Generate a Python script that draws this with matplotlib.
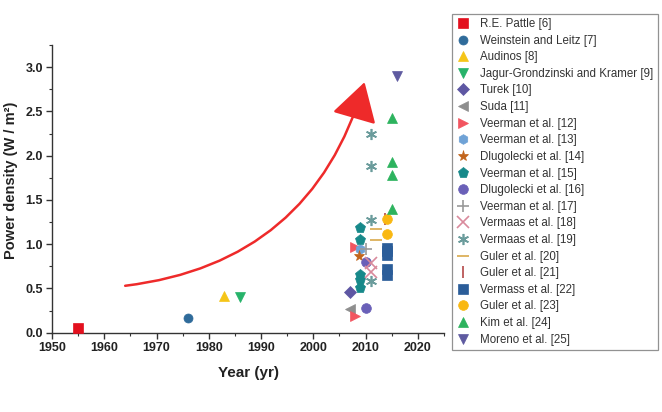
import matplotlib
matplotlib.use("Agg")
import matplotlib.pyplot as plt
from matplotlib.ticker import MultipleLocator

plt.rcParams['font.family'] = ['Liberation Sans', 'DejaVu Sans']

# ---- data ----
labels = ["R.E. Pattle [6]", "Weinstein and Leitz [7]", "Audinos [8]",
          "Jagur-Grondzinski and Kramer [9]", "Turek [10]", "Suda [11]",
          "Veerman et al. [12]", "Veerman et al. [13]", "Dlugolecki et al. [14]",
          "Veerman et al. [15]", "Dlugolecki et al. [16]", "Veerman et al. [17]",
          "Vermaas et al. [18]", "Vermaas et al. [19]", "Guler et al. [20]",
          "Guler et al. [21]", "Vermass et al. [22]", "Guler et al. [23]",
          "Kim et al. [24]", "Moreno et al. [25]"]

x_pattle = [1955];            y_pattle = [0.05]
x_weinstein = [1976];         y_weinstein = [0.17]
x_audinos = [1983];           y_audinos = [0.41]
x_jagur = [1986];             y_jagur = [0.40]
x_turek = [2007];             y_turek = [0.46]
x_suda = [2007];              y_suda = [0.27]
x_veerman12 = [2008, 2008];   y_veerman12 = [0.19, 0.97]
x_veerman13 = [2009];         y_veerman13 = [0.94]
x_dlugo14 = [2008.8];         y_dlugo14 = [0.87]
x_veerman15 = [2009, 2009, 2009, 2009, 2009]
y_veerman15 = [1.18, 1.05, 0.65, 0.59, 0.50]
x_dlugo16 = [2010, 2010];     y_dlugo16 = [0.28, 0.80]
x_veerman17 = [2010];         y_veerman17 = [0.95]
x_vermaas18 = [2011, 2011];   y_vermaas18 = [0.79, 0.69]
x_vermaas19 = [2011, 2011, 2011, 2011]
y_vermaas19 = [2.24, 1.88, 1.27, 0.58]
x_guler20 = [2012, 2012];     y_guler20 = [1.17, 1.05]
x_guler21 = [2013.7];         y_guler21 = [1.28]
x_vermass22 = [2014, 2014, 2014, 2014, 2014]
y_vermass22 = [0.96, 0.92, 0.88, 0.72, 0.65]
x_guler23 = [2014, 2014];     y_guler23 = [1.28, 1.12]
x_kim = [2015, 2015, 2015, 2015]
y_kim = [2.42, 1.93, 1.78, 1.40]
x_moreno = [2016];            y_moreno = [2.90]

xs = [x_pattle, x_weinstein, x_audinos, x_jagur, x_turek, x_suda, x_veerman12,
      x_veerman13, x_dlugo14, x_veerman15, x_dlugo16, x_veerman17, x_vermaas18,
      x_vermaas19, x_guler20, x_guler21, x_vermass22, x_guler23, x_kim, x_moreno]
ys = [y_pattle, y_weinstein, y_audinos, y_jagur, y_turek, y_suda, y_veerman12,
      y_veerman13, y_dlugo14, y_veerman15, y_dlugo16, y_veerman17, y_vermaas18,
      y_vermaas19, y_guler20, y_guler21, y_vermass22, y_guler23, y_kim, y_moreno]

# ---- styles ----
markers = ['s', 'o', '^', 'v', 'D', '<', '>', 'h', '*', 'p', 'o', '+', 'x',
           (6, 2, 0), '_', '|', 's', 'o', '^', 'v']
colors = ['#e3101e', '#2f6b9a', '#f5c518', '#27b36a', '#5e57a3', '#8e8e8e',
          '#f25560', '#6fa2d6', '#c2651c', '#17898a', '#6a60b8', '#9a9a9a',
          '#d98a9c', '#6b9c9c', '#d9a94c', '#b44848', '#2b5d99', '#f9b812',
          '#2db35e', '#5e5aa0']
sizes = [7, 6.5, 7, 7, 6, 7, 7, 7, 8, 8, 7, 8, 8, 8, 8, 8, 7, 7, 7, 7]

fig = plt.figure(figsize=(6.62, 4.12), dpi=100)
ax = fig.add_axes([52/662, 1 - 332.7/412, (444-52)/662, (332.7-45)/412])

for x, y, lab, m, c, s in zip(xs, ys, labels, markers, colors, sizes):
    ax.plot(x, y, linestyle='none', marker=m, color=c, markersize=s,
            markeredgewidth=1.2 if m in ['+', 'x', (6, 2, 0), '_', '|'] else 0.5,
            markeredgecolor=c, label=lab, clip_on=False, zorder=3)

ax.annotate('', xy=(2009.8, 2.83), xytext=(1964, 0.53),
            arrowprops=dict(arrowstyle='-|>,head_length=1.1,head_width=0.65',
                            mutation_scale=22, color='#ee2a2a', lw=1.8,
                            connectionstyle='arc3,rad=0.33', shrinkA=0, shrinkB=0))

ax.set_xlim(1950, 2025)
ax.set_ylim(0, 3.25)
ax.xaxis.set_major_locator(MultipleLocator(10))
ax.xaxis.set_minor_locator(MultipleLocator(5))
ax.yaxis.set_major_locator(MultipleLocator(0.5))
ax.yaxis.set_minor_locator(MultipleLocator(0.25))
ax.yaxis.set_major_formatter(plt.FormatStrFormatter('%.1f'))
for s in ['top', 'right']:
    ax.spines[s].set_visible(False)
for s in ['left', 'bottom']:
    ax.spines[s].set_color('#333333')
    ax.spines[s].set_linewidth(1.0)
ax.tick_params(which='major', direction='out', length=4, width=1, colors='#333333',
               labelsize=9, labelcolor='#222222', pad=2.5)
ax.tick_params(which='minor', direction='out', length=2.5, width=0.8, colors='#333333')
for t in ax.get_xticklabels() + ax.get_yticklabels():
    t.set_fontweight('bold')

ax.set_xlabel('Year (yr)', fontsize=11, fontweight='bold', color='#222222', labelpad=9)
ax.set_ylabel('Power density (W / m\u00b2)', fontsize=10.5, fontweight='bold',
              color='#222222')
ax.yaxis.set_label_coords(-0.088, 0.53)

leg = fig.legend(loc='upper left', bbox_to_anchor=(452/662, 1 - 14/412),
                 fontsize=8.3, frameon=True, fancybox=False, edgecolor='#777777',
                 handletextpad=0.9, labelspacing=0.4, borderpad=0.35,
                 handlelength=1.2, borderaxespad=0)
leg.get_frame().set_linewidth(0.9)
for t in leg.get_texts():
    t.set_color('#333333')

fig.savefig('out.png', dpi=100)
